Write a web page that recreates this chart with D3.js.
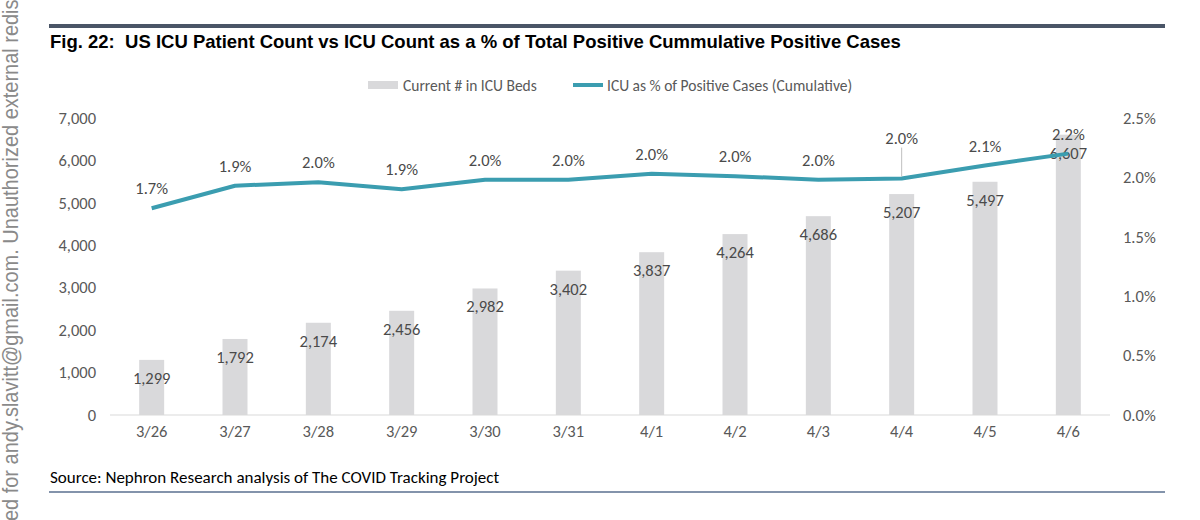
<!DOCTYPE html>
<html>
<head>
<meta charset="utf-8">
<script src="https://cdn.jsdelivr.net/npm/d3@7"></script>
<style>
  html, body { margin: 0; padding: 0; background: #fff; }
  svg { display: block; }
  text { white-space: pre; }
</style>
</head>
<body>
<svg id="chart" width="1200" height="520"></svg>
<script>
// ---- data ----
const categories = ["3/26","3/27","3/28","3/29","3/30","3/31","4/1","4/2","4/3","4/4","4/5","4/6"];
const icuBeds = [1299, 1792, 2174, 2456, 2982, 3402, 3837, 4264, 4686, 5207, 5497, 6607];
const icuPct = [0.0174, 0.0193, 0.0196, 0.0190, 0.0198, 0.0198, 0.0203, 0.0201, 0.0198, 0.0199, 0.0210, 0.0220];
const leftTicks = [0, 1000, 2000, 3000, 4000, 5000, 6000, 7000];
const rightTicks = [0, 0.005, 0.010, 0.015, 0.020, 0.025];
const seriesNames = ["Current # in ICU Beds", "ICU as % of Positive Cases (Cumulative)"];
const titleText = "Fig. 22:  US ICU Patient Count vs ICU Count as a % of Total Positive Cummulative Positive Cases";
const sourceText = "Source: Nephron Research analysis of The COVID Tracking Project";
const watermarkPre = "Licens";
const watermarkVisible = "ed for andy.slavitt@gmail.com. Unauthorized external redis";
const watermarkText = "Licensed for andy.slavitt@gmail.com. Unauthorized external redistribution";

// ---- styles ----
const FONT = "Carlito, Lato, 'Open Sans', sans-serif";
const BAR = "#d9d9db";
const LINE = "#3b9db0";
const TICK = "#595959";
const LABEL = "#4a4a4a";
const RULE = "#4a5567";
const FS = 16.5;

const svg = d3.select("#chart");

// watermark (rotated, condensed to match)
const wmFont = "'Liberation Sans', Arial, sans-serif";
function measure(str) {
  const t = svg.append("text").attr("font-family", wmFont).attr("font-size", 22).text(str);
  const w = t.node().getComputedTextLength();
  t.remove();
  return w;
}
const wPre = measure(watermarkPre);
const wVis = measure(watermarkVisible);
const s = 522 / wVis;
svg.append("text")
  .attr("transform", `translate(18,521) rotate(-90) scale(${s},1)`)
  .attr("x", -wPre)
  .attr("font-family", wmFont)
  .attr("font-size", 22)
  .attr("fill", "#8a8a8a")
  .text(watermarkText);

// top rule + title
svg.append("rect").attr("x", 49).attr("y", 24).attr("width", 1116).attr("height", 4).attr("fill", RULE);
svg.append("text")
  .attr("x", 50).attr("y", 48)
  .attr("font-family", "'Liberation Sans', Arial, sans-serif")
  .attr("font-weight", "bold")
  .attr("font-size", 18.5)
  .attr("fill", "#000")
  .text(titleText);

// scales
const x = d3.scaleBand().domain(categories).range([110, 1110]).paddingInner(0.7).paddingOuter(0.35);
const yL = d3.scaleLinear().domain([0, 7000]).range([415, 118]);
const yR = d3.scaleLinear().domain([0, 0.025]).range([415, 118]);

// legend
const lg = svg.append("g").attr("font-family", FONT).attr("font-size", 15.5).attr("fill", TICK);
lg.append("rect").attr("x", 368).attr("y", 81).attr("width", 30).attr("height", 8).attr("fill", BAR);
lg.append("text").attr("x", 403).attr("y", 90.5).text(seriesNames[0]);
lg.append("line").attr("x1", 573).attr("x2", 603).attr("y1", 85).attr("y2", 85)
  .attr("stroke", LINE).attr("stroke-width", 4);
lg.append("text").attr("x", 607).attr("y", 90.5).text(seriesNames[1]);

// axes
const leftAxis = d3.axisLeft(yL).tickValues(leftTicks).tickFormat(d3.format(",")).tickSize(0).tickPadding(0);
const gL = svg.append("g").attr("transform", "translate(96,0)").call(leftAxis);
gL.select(".domain").remove();
gL.selectAll("text").attr("font-family", FONT).attr("font-size", FS).attr("fill", TICK);

const rightAxis = d3.axisRight(yR).tickValues(rightTicks).tickFormat(d3.format(".1%")).tickSize(0).tickPadding(0);
const gR = svg.append("g").attr("transform", "translate(1123,0)").call(rightAxis);
gR.select(".domain").remove();
gR.selectAll("text").attr("font-family", FONT).attr("font-size", FS).attr("fill", TICK);

// bars
svg.append("g").selectAll("rect").data(categories).join("rect")
  .attr("x", d => x(d))
  .attr("width", x.bandwidth())
  .attr("y", (d, i) => yL(icuBeds[i]))
  .attr("height", (d, i) => yL(0) - yL(icuBeds[i]))
  .attr("fill", BAR);

// baseline
svg.append("line").attr("x1", 110).attr("x2", 1110).attr("y1", yL(0)).attr("y2", yL(0))
  .attr("stroke", "#d9d9d9").attr("stroke-width", 1);

// bottom axis labels
const bottomAxis = d3.axisBottom(x).tickSize(0).tickPadding(0);
const gB = svg.append("g").attr("transform", "translate(0,425)").call(bottomAxis);
gB.select(".domain").remove();
gB.selectAll("text").attr("font-family", FONT).attr("font-size", FS).attr("fill", TICK);

// bar labels (inside end)
svg.append("g").selectAll("text").data(categories).join("text")
  .attr("x", d => x(d) + x.bandwidth() / 2)
  .attr("y", (d, i) => yL(icuBeds[i]) + 24)
  .attr("text-anchor", "middle")
  .attr("font-family", FONT).attr("font-size", FS).attr("fill", LABEL)
  .text((d, i) => d3.format(",")(icuBeds[i]));

// line
const cx = d => x(d) + x.bandwidth() / 2;
const line = d3.line().x((d, i) => cx(categories[i])).y(d => yR(d));
svg.append("path").datum(icuPct)
  .attr("d", line)
  .attr("fill", "none").attr("stroke", LINE).attr("stroke-width", 4)
  .attr("stroke-linejoin", "round");

// line labels
const labelOffset = categories.map(c => c === "4/4" ? 41 : 20);
svg.append("g").selectAll("line").data(categories.filter(c => c === "4/4")).join("line")
  .attr("x1", d => cx(d)).attr("x2", d => cx(d))
  .attr("y1", d => yR(icuPct[categories.indexOf(d)]) - 31)
  .attr("y2", d => yR(icuPct[categories.indexOf(d)]) - 2)
  .attr("stroke", "#bfbfbf").attr("stroke-width", 1);
svg.append("g").selectAll("text").data(categories).join("text")
  .attr("x", d => cx(d))
  .attr("y", (d, i) => yR(icuPct[i]) - labelOffset[i] + 6)
  .attr("text-anchor", "middle")
  .attr("font-family", FONT).attr("font-size", FS).attr("fill", LABEL)
  .text((d, i) => d3.format(".1%")(icuPct[i]));

// source + bottom rule
svg.append("text").attr("x", 50).attr("y", 483)
  .attr("font-family", FONT).attr("font-size", 17).attr("fill", "#000")
  .text(sourceText);
svg.append("rect").attr("x", 49).attr("y", 491).attr("width", 1116).attr("height", 2).attr("fill", "#8393ab");
</script>
</body>
</html>
